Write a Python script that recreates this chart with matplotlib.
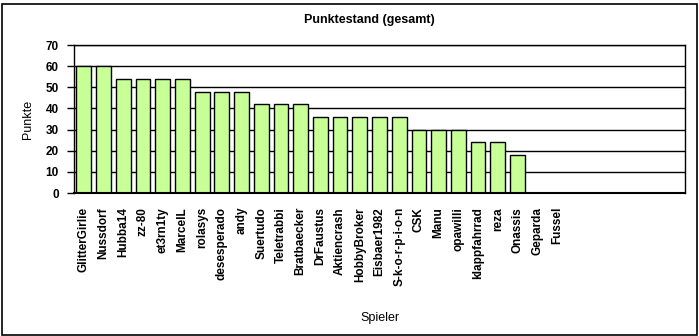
import matplotlib
matplotlib.use("Agg")
import matplotlib.pyplot as plt
from matplotlib.patches import Rectangle

players = ["GlitterGirlie", "Nussdorf", "Hubba14", "zz-80", "et3rn1ty", "MarcelL",
           "rolasys", "desesperado", "andy", "Suertudo", "Teletrabbi", "Bratbaecker",
           "DrFaustus", "Aktiencrash", "HobbyBroker", "Eisbaer1982", "S-k-o-r-p-i-o-n",
           "CSK", "Manu", "opawilli", "klappfahrrad", "reza", "Onassis", "Geparda", "Fussel"]
points = [60, 60, 54, 54, 54, 54, 48, 48, 48, 42, 42, 42, 36, 36, 36, 36, 36,
          30, 30, 30, 24, 24, 18, 0, 0]
n_slots = 31
yticks = [0, 10, 20, 30, 40, 50, 60, 70]

plt.rcParams['font.family'] = ['Liberation Sans', 'DejaVu Sans']

W, H = 699, 336
fig = plt.figure(figsize=(W / 100, H / 100), dpi=100)
ax = fig.add_axes([74 / W, 1 - 193 / H, (685 - 74) / W, (193 - 45) / H])

ax.set_axisbelow(True)
for y in yticks[1:]:
    ax.axhline(y, color='black', lw=1.0, zorder=0)

x = list(range(len(players)))
ax.bar(x, points, width=0.75, color='#C8FF96', edgecolor='black', linewidth=1.0, zorder=2)

ax.set_xlim(-0.5, n_slots - 0.5)
ax.set_ylim(0, 70)
ax.set_yticks(yticks)
ax.set_yticklabels([str(v) for v in yticks], fontsize=8.5, fontweight='bold')
ax.tick_params(axis='y', length=5, width=1, pad=6)
ax.set_xticks(x)
ax.set_xticklabels(players, rotation=90, fontsize=8.5, fontweight='bold', va='top')
ax.tick_params(axis='x', length=0, pad=10)
for s in ax.spines.values():
    s.set_linewidth(1.0)
ax.spines['bottom'].set_linewidth(1.5)

ax.set_ylabel('Punkte', fontsize=9, labelpad=8)
fig.text(380 / W, 1 - 318 / H, 'Spieler', ha='center', va='center', fontsize=9)
fig.text(369 / W, 1 - 20 / H, 'Punktestand (gesamt)', ha='center', va='center',
         fontsize=9, fontweight='bold')

fig.patches.append(Rectangle((1.5 / W, 1.5 / H), (W - 4) / W, (H - 5) / H,
                             transform=fig.transFigure, fill=False, edgecolor='black',
                             linewidth=1.2))

fig.savefig('out.png', dpi=100)
